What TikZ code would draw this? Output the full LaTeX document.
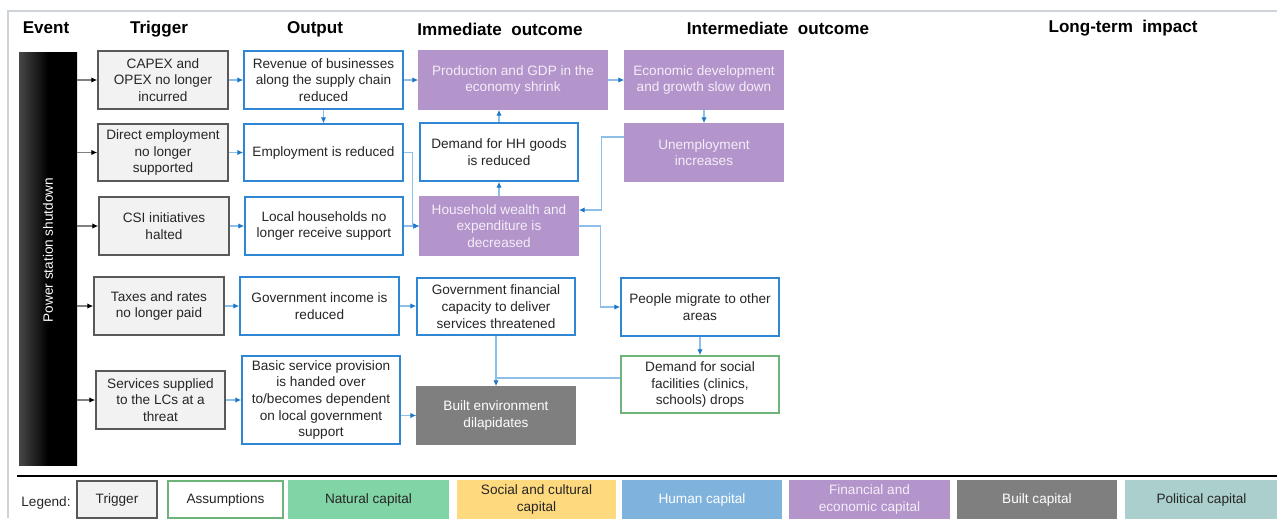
\documentclass[tikz,border=0pt]{standalone}
\usepackage{fontspec}
\setmainfont{Liberation Sans}
\usetikzlibrary{arrows.meta,calc}
\definecolor{txt}{HTML}{262626}
\definecolor{framegray}{HTML}{CDD3D8}
\definecolor{trigfill}{HTML}{F2F2F2}
\definecolor{triggray}{HTML}{595959}
\definecolor{boxblue}{HTML}{2F87D3}
\definecolor{lineblue}{HTML}{8EBFE8}
\definecolor{arrowblue}{HTML}{1F77C8}
\definecolor{purp}{HTML}{B394CB}
\definecolor{purptext}{HTML}{F4EEF8}
\definecolor{builtgray}{HTML}{7F7F7F}
\definecolor{assgreen}{HTML}{6DB37A}
\definecolor{natgreen}{HTML}{80D4A6}
\definecolor{socyellow}{HTML}{FFD97D}
\definecolor{humblue}{HTML}{7FB3DE}
\definecolor{polteal}{HTML}{AACFCD}
\begin{document}
\begin{tikzpicture}[x=0.75pt,y=-0.75pt,
  sz/.style 2 args={minimum width={#1*0.75pt}, minimum height={#2*0.75pt}},
  base/.style={draw, align=center, inner sep=1pt, text=txt, line width=1pt,
    font=\fontsize{10.2}{12.5}\selectfont},
  trig/.style={base, fill=trigfill, draw=triggray},
  outb/.style={base, fill=white, draw=boxblue},
  purpbox/.style={base, fill=purp, draw=purp, text=purptext},
  builtbox/.style={base, fill=builtgray, draw=builtgray, text=white},
  assbox/.style={base, fill=white, draw=assgreen},
  hdr/.style={font=\fontsize{12.8}{15}\selectfont\bfseries, text=black, inner sep=0pt},
  lgbox/.style={base, sz={#1}{37}, line width=0.8pt},
  conn/.style={draw=lineblue, line width=0.9pt, -{Latex[length=4.5pt,width=4pt,color=arrowblue]}},
  plain/.style={draw=lineblue, line width=0.9pt},
  evconn/.style={draw=gray, line width=0.9pt, -{Latex[length=4.5pt,width=4pt,color=black]}}
]
\useasboundingbox (0,0) rectangle (1277,518);
% frame
\draw[framegray, line width=1.5pt] (8,518) -- (8,11) -- (1277,11);

% headers
\node[hdr] (hE) at (46,28) {Event};
\node[hdr] (hT) at (159,29) {Trigger};
\node[hdr] (hO) at (315,29) {Output};
\node[hdr] (hI) at (500,29) {Immediate\ \ outcome};
\node[hdr] (hM) at (778,28) {Intermediate\ \ outcome};
\node[hdr] (hL) at (1123,28) {Long-term\ \ impact};

% event bar
\node[draw=none, left color=black!72, right color=black, middle color=black, sz={58}{413}, inner sep=0pt] (E) at (48,258.5) {};
\node[rotate=90, text=white, font=\fontsize{10.2}{12}\selectfont, inner sep=0pt] (Etext) at (48,250) {Power station shutdown};

% triggers
\node[trig, sz={130}{58}] (T1) at (163,80) {CAPEX and\\OPEX no longer\\incurred};
\node[trig, sz={130}{57}] (T2) at (163,152.5) {Direct employment\\no longer\\supported};
\node[trig, sz={130}{58}] (T3) at (164,226) {CSI initiatives\\halted};
\node[trig, sz={130}{58}] (T4) at (159,306) {Taxes and rates\\no longer paid};
\node[trig, sz={129}{58}] (T5) at (160.5,400) {Services supplied\\to the LCs at a\\threat};

% outputs
\node[outb, sz={159}{58}] (O1) at (323.5,80) {Revenue of businesses\\along the supply chain\\reduced};
\node[outb, sz={159}{57}] (O2) at (323.5,152.5) {Employment is reduced};
\node[outb, sz={158}{58}] (O3) at (324,226) {Local households no\\longer receive support};
\node[outb, sz={159}{58}] (O4) at (319.5,306) {Government income is\\reduced};
\node[outb, sz={158}{88}] (O5) at (321,400) {Basic service provision\\is handed over\\to/becomes dependent\\on local government\\support};

% immediate outcomes
\node[purpbox, sz={188}{58}] (I1) at (513,80) {Production and GDP in the\\economy shrink};
\node[outb, sz={158}{58}] (I2) at (499,152) {Demand for HH goods\\is reduced};
\node[purpbox, sz={158}{58}] (I3) at (499,226) {Household wealth and\\expenditure is\\decreased};
\node[outb, sz={158}{57}] (I4) at (496,306.5) {Government financial\\capacity to deliver\\services threatened};
\node[builtbox, sz={158}{57}] (I5) at (496,415.5) {Built environment\\dilapidates};

% intermediate outcomes
\node[purpbox, sz={158}{58}] (M1) at (704,80) {Economic development\\and growth slow down};
\node[purpbox, sz={158}{57}] (M2) at (704,152.5) {Unemployment\\increases};
\node[outb, sz={158}{58}] (M3) at (700,307) {People migrate to other\\areas};
\node[assbox, sz={158}{57}] (M4) at (700,384.5) {Demand for social\\facilities (clinics,\\schools) drops};

% event connectors
\foreach \t in {T1,T2,T3,T4,T5} {
  \draw[evconn] (E.east |- \t.west) -- (\t.west);
}

% trigger -> output
\draw[conn] (T1.east) -- (O1.west);
\draw[conn] (T2.east) -- (O2.west);
\draw[conn] (T3.east) -- (O3.west);
\draw[conn] (T4.east) -- (O4.west);
\draw[conn] (T5.east) -- (O5.west);

% other connectors
\draw[conn] (O1.east) -- (I1.west);
\draw[conn] (O1.south) -- (O2.north);
\draw[conn] (I1.east) -- (M1.west);
\draw[conn] (M1.south) -- (M2.north);
\draw[conn] (O2.east) -- ++(9,0) |- (I3.west);
\draw[conn] (O3.east) -- (I3.west);
\draw[conn] (I3.north) -- (I2.south);
\draw[conn] (I2.north) -- (I2.north |- I1.south);
\coordinate (Ms) at ($(M2.west)+(0,-15.5)$);
\coordinate (Ie) at ($(I3.east)+(0,-16)$);
\draw[conn] (Ms) -- ++(-23,0) |- (Ie);
\draw[conn] (I3.east) -- ++(22,0) |- (M3.west);
\draw[conn] (O4.east) -- (O4.east -| I4.west);
\draw[conn] (I4.south) -- (I5.north);
\draw[conn] (M3.south) -- (M4.north);
\coordinate (J) at ($(M4.west)+(0,-6.5)$);
\draw[plain] (J) -- (J -| I4.south);
\draw[conn] (O5.east |- I5.west) -- (I5.west);

% legend
\draw[black, line width=2pt] (17,476) -- (1277,476);
\node[text=txt, font=\fontsize{10.2}{12.5}\selectfont, inner sep=0pt] (lg) at (46,503) {Legend:};
\node[lgbox={80}, trig] (L1) at (117,499.5) {Trigger};
\node[lgbox={115}, assbox] (L2) at (225.5,499.5) {Assumptions};
\node[lgbox={159}, fill=natgreen, draw=natgreen] (L3) at (368.5,499.5) {Natural capital};
\node[lgbox={157}, fill=socyellow, draw=socyellow] (L4) at (536.5,499.5) {Social and cultural\\capital};
\node[lgbox={158}, fill=humblue, draw=humblue, text=white] (L5) at (702,499.5) {Human capital};
\node[lgbox={159}, fill=purp, draw=purp, text=purptext] (L6) at (869.5,499.5) {Financial and\\economic capital};
\node[lgbox={158}, fill=builtgray, draw=builtgray, text=white] (L7) at (1037,499.5) {Built capital};
\node[lgbox={151}, fill=polteal, draw=polteal] (L8) at (1201.5,499.5) {Political capital};
\end{tikzpicture}
\end{document}
